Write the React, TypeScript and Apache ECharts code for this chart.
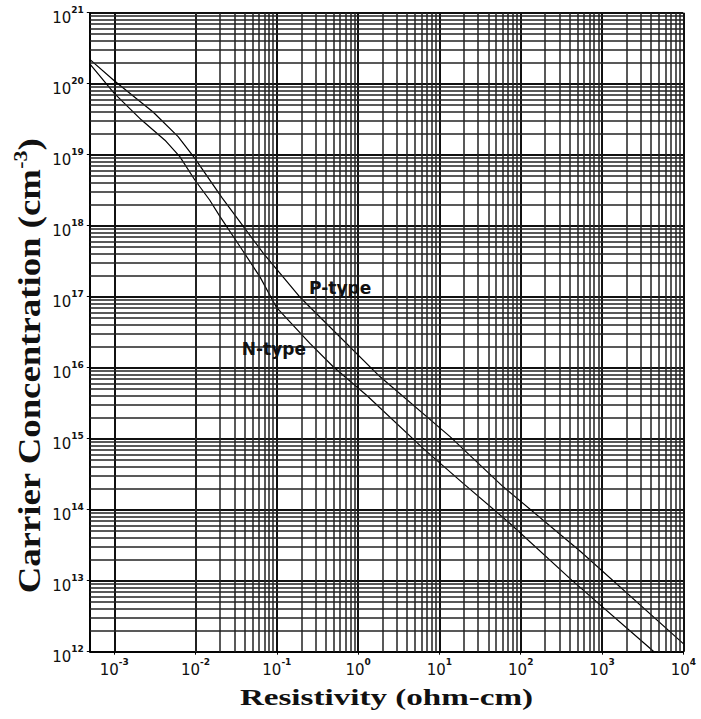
import React, { useEffect, useRef } from 'react';
import * as echarts from 'echarts';

// Silicon resistivity vs. dopant concentration (ohm-cm, cm^-3)
const resistivityP = [5e-4, 1e-3, 3e-3, 6.1e-3, 9.8e-3, 0.021, 0.068, 0.19, 0.49, 1.85, 13.5, 61, 540, 1e4];
const concentrationP = [2.2e20, 1.1e20, 4.0e19, 1.8e19, 8.9e18, 2.5e18, 4.1e17, 1.0e17, 3.4e16, 7.5e15, 1.07e15, 2.1e14, 2.6e13, 1.3e12];

const resistivityN = [5e-4, 1.0e-3, 2.15e-3, 4.2e-3, 6.4e-3, 9.8e-3, 0.0149, 0.02, 0.0352, 0.062, 0.0995, 0.255, 0.494, 1.27, 6.3, 19.6, 73.8, 424, 3890, 4350];
const concentrationN = [1.9e20, 7.3e19, 3.1e19, 1.6e19, 9.4e18, 4.4e18, 2.3e18, 1.34e18, 5.1e17, 1.9e17, 7.0e16, 2.2e16, 1.03e16, 4.1e15, 7.3e14, 2.35e14, 6.4e13, 1.02e13, 1.12e12, 1.0e12];

// Curve labels, anchored in data coordinates [resistivity, concentration]
const pTypeLabelAt = [0.6, 1.33e17];
const nTypeLabelAt = [0.092, 1.82e16];

// Axis ranges
const xRange = [5e-4, 1e4];
const yRange = [1e12, 1e21];

// Log-paper minor lines: 2..9 within each decade
const minorSteps = [2, 3, 4, 5, 6, 7, 8, 9];
const xDecadeExps = [-4, -3, -2, -1, 0, 1, 2, 3];
const yDecadeExps = [12, 13, 14, 15, 16, 17, 18, 19, 20];

function minorValues(exps: number[], lo: number, hi: number): number[] {
  const out: number[] = [];
  exps.forEach((e) => {
    minorSteps.forEach((k) => {
      const v = Number((k * Math.pow(10, e)).toPrecision(4));
      if (v > lo * 1.0001 && v < hi * 0.9999) out.push(v);
    });
  });
  return out;
}

function powerLabel(v: number): string {
  const lg = Math.log10(v);
  const e = Math.round(lg);
  if (Math.abs(lg - e) > 1e-6) return '';
  return `{b|10}{s|${e}}`;
}

const tickFont = '"DejaVu Sans", Verdana, sans-serif';
const serifFont = '"Liberation Serif", "Times New Roman", serif';

export default function App() {
  const ref = useRef<HTMLDivElement>(null);

  useEffect(() => {
    if (!ref.current) return;
    const chart = echarts.init(ref.current, undefined, { renderer: 'svg' });

    const xMinor = minorValues(xDecadeExps, xRange[0], xRange[1]);
    const yMinor = minorValues(yDecadeExps, yRange[0], yRange[1]);

    const labelRich = {
      b: { fontSize: 15, fontFamily: tickFont, color: '#111', lineHeight: 20, verticalAlign: 'bottom' },
      s: { fontSize: 9, fontFamily: tickFont, fontWeight: 'bold', color: '#111', lineHeight: 10, verticalAlign: 'top' },
    };

    const curveLabel = (text: string, coord: number[]) => ({
      silent: true,
      symbol: 'rect',
      symbolSize: 1,
      itemStyle: { color: 'rgba(0,0,0,0)' },
      label: {
        show: true,
        position: 'inside',
        formatter: text,
        fontFamily: tickFont,
        fontWeight: 'bold',
        fontSize: 17,
        color: '#111',
      },
      data: [{ coord }],
    });

    const curveStyle = { color: '#000', width: 1.2 };

    chart.setOption({
      animation: false,
      backgroundColor: '#fff',
      grid: { left: 89.8, right: 17.7, top: 12.7, bottom: 67.3 },
      xAxis: {
        type: 'log',
        logBase: 10,
        min: xRange[0],
        max: xRange[1],
        axisLine: { show: true, lineStyle: { color: '#000', width: 1.5 } },
        axisTick: { show: true, length: 3, lineStyle: { color: '#000' } },
        axisLabel: { formatter: powerLabel, margin: 6, fontSize: 15, rich: labelRich, showMinLabel: false },
        splitLine: { show: true, lineStyle: { color: '#111', width: 2 } },
        minorTick: { show: false },
      },
      yAxis: {
        type: 'log',
        logBase: 10,
        min: yRange[0],
        max: yRange[1],
        axisLine: { show: true, lineStyle: { color: '#000', width: 1.5 } },
        axisTick: { show: true, length: 3, lineStyle: { color: '#000' } },
        axisLabel: { formatter: powerLabel, margin: 6, fontSize: 15, rich: labelRich, padding: [6, 0, 0, 0] },
        splitLine: { show: true, lineStyle: { color: '#111', width: 2 } },
      },
      series: [
        {
          name: 'grid',
          type: 'line',
          data: [],
          silent: true,
          markLine: {
            silent: true,
            symbol: 'none',
            label: { show: false },
            lineStyle: { color: '#222', width: 1.5, type: 'solid' },
            data: [
              ...xMinor.map((v) => ({ xAxis: v })),
              ...yMinor.map((v) => ({ yAxis: v })),
            ],
          },
        },
        {
          name: 'P-type',
          type: 'line',
          showSymbol: false,
          symbol: 'none',
          lineStyle: curveStyle,
          data: resistivityP.map((r, i) => [r, concentrationP[i]]),
          markPoint: curveLabel('P-type', pTypeLabelAt),
        },
        {
          name: 'N-type',
          type: 'line',
          showSymbol: false,
          symbol: 'none',
          lineStyle: curveStyle,
          data: resistivityN.map((r, i) => [r, concentrationN[i]]),
          markPoint: curveLabel('N-type', nTypeLabelAt),
        },
      ],
      graphic: [
        {
          type: 'text',
          x: 386.5,
          y: 697,
          scaleX: 1.38,
          silent: true,
          style: {
            text: 'Resistivity (ohm-cm)',
            font: `bold 24px ${serifFont}`,
            textAlign: 'center',
            textVerticalAlign: 'middle',
            fill: '#111',
          },
        },
        {
          type: 'text',
          x: 28,
          y: 366,
          rotation: Math.PI / 2,
          scaleX: 1.15,
          silent: true,
          style: {
            text: '{a|Carrier Concentration (cm}{b|-3}{a|)}',
            textAlign: 'center',
            textVerticalAlign: 'middle',
            fill: '#111',
            rich: {
              a: { fontSize: 32, fontFamily: serifFont, fontWeight: 'bold', lineHeight: 34, verticalAlign: 'bottom', fill: '#111' },
              b: { fontSize: 19, fontFamily: serifFont, fontWeight: 'bold', lineHeight: 19, verticalAlign: 'top', fill: '#111' },
            },
          },
        },
      ],
    });

    return () => chart.dispose();
  }, []);

  return (
    <div
      ref={ref}
      style={{ position: 'fixed', left: 0, top: 0, width: 701, height: 719, background: '#fff' }}
    />
  );
}
